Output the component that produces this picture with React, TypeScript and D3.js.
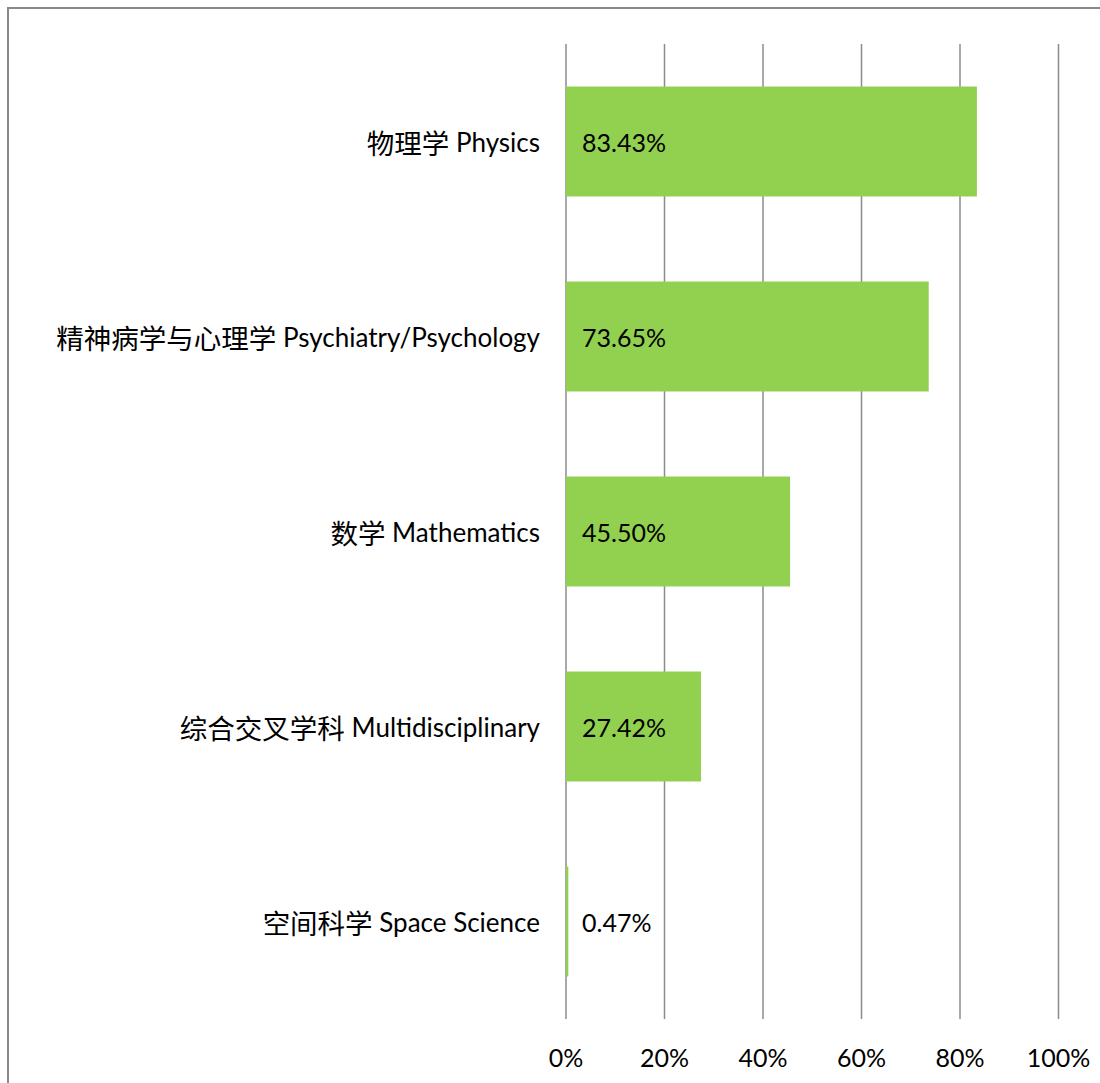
import React from "react";
import * as d3 from "d3";

const categories = [
  "物理学 Physics",
  "精神病学与心理学 Psychiatry/Psychology",
  "数学 Mathematics",
  "综合交叉学科 Multidisciplinary",
  "空间科学 Space Science",
];
const values = [0.8343, 0.7365, 0.455, 0.2742, 0.0047];
const tickValues = [0, 0.2, 0.4, 0.6, 0.8, 1.0];

const W = 1100;
const H = 1083;
const FONT = "Lato, 'Noto Sans CJK SC', sans-serif";
const CJK = "'Noto Sans CJK SC', sans-serif";

export default function App() {
  const x = d3.scaleLinear().domain([0, 1]).range([566, 1058.5]);
  const y = d3
    .scaleBand<string>()
    .domain(categories)
    .range([44, 1019])
    .paddingInner(0.436)
    .paddingOuter(0.218);
  const fmt = d3.format(".2%");
  const tickFmt = d3.format(".0%");

  return (
    <svg
      width={W}
      height={H}
      style={{ position: "absolute", left: 0, top: 0, background: "#fff" }}
    >
      {/* chart border, cut off at right and bottom */}
      <rect x={8} y={8} width={W + 20} height={H + 20} fill="#fff" stroke="#898989" strokeWidth={2} />

      {/* gridlines */}
      {tickValues.map((t) => (
        <line
          key={t}
          x1={x(t)}
          x2={x(t)}
          y1={44}
          y2={1019}
          stroke="#8c8c8c"
          strokeWidth={1.5}
        />
      ))}

      {/* bars */}
      {categories.map((c, i) => (
        <rect
          key={c}
          x={x(0)}
          y={y(c)}
          width={x(values[i]) - x(0)}
          height={y.bandwidth()}
          fill="#92d050"
        />
      ))}

      {/* category labels: chinese part + english part */}
      {categories.map((c) => {
        const k = c.indexOf(" ");
        const zh = c.slice(0, k);
        const en = c.slice(k);
        return (
          <text
            key={c}
            x={540}
            y={(y(c) as number) + y.bandwidth() / 2}
            textAnchor="end"
            dominantBaseline="central"
            fontFamily={FONT}
            fontSize={26}
            fill="#000"
          >
            <tspan fontFamily={CJK} fontSize={27.5}>{zh}</tspan>
            <tspan>{en}</tspan>
          </text>
        );
      })}

      {/* value labels */}
      {categories.map((c, i) => (
        <text
          key={c}
          x={x(0) + 16}
          y={(y(c) as number) + y.bandwidth() / 2}
          dominantBaseline="central"
          fontFamily={FONT}
          fontSize={25}
          fill="#000"
        >
          {fmt(values[i])}
        </text>
      ))}

      {/* axis tick labels */}
      {tickValues.map((t) => (
        <text
          key={t}
          x={x(t)}
          y={1057}
          textAnchor="middle"
          dominantBaseline="central"
          fontFamily={FONT}
          fontSize={25}
          fill="#000"
        >
          {tickFmt(t)}
        </text>
      ))}
    </svg>
  );
}
